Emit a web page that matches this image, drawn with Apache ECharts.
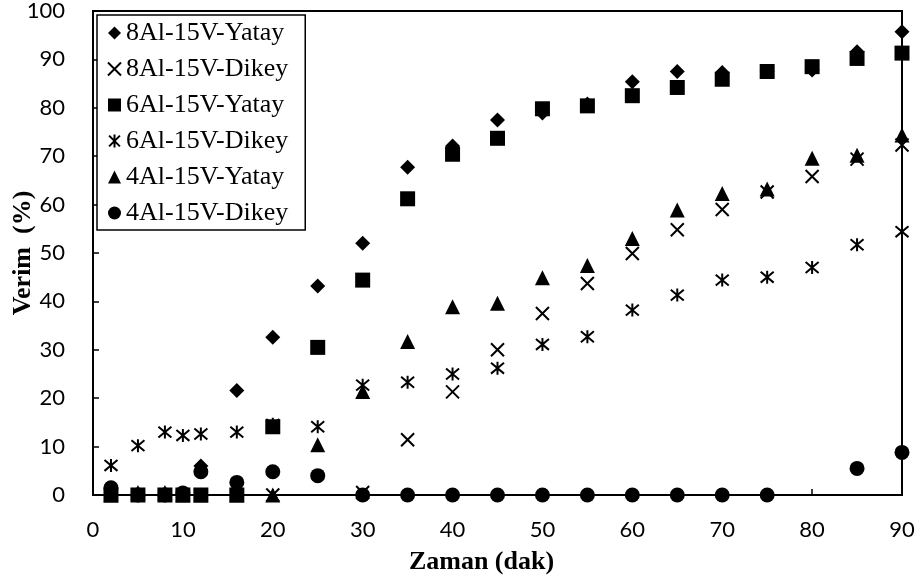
<!DOCTYPE html>
<html><head><meta charset="utf-8">
<script src="https://cdn.jsdelivr.net/npm/echarts@6/dist/echarts.min.js"></script>
<style>html,body{margin:0;padding:0;background:#fff}#c{width:922px;height:578px}</style>
</head><body><div id="c"></div>
<script>
var times = [2,5,8,10,12,16,20,25,30,35,40,45,50,55,60,65,70,75,80,85,90];
var xTicks = [0,10,20,30,40,50,60,70,80,90];
var yTicks = [0,10,20,30,40,50,60,70,80,90,100];
var al8Yatay = [0,0,0,0,6.0,21.6,32.6,43.2,52.0,67.7,72.1,77.5,78.9,80.8,85.4,87.5,87.3,87.5,87.8,91.6,95.7];
var al8Dikey = [0,0,0,0,0,0,0,null,0.5,11.4,21.3,30.0,37.5,43.7,49.9,54.8,59.0,62.6,65.8,69.4,72.3];
var al6Yatay = [0,0,0,0,0,0,14.1,30.5,44.4,61.2,70.4,73.7,79.8,80.4,82.5,84.2,85.9,87.5,88.5,90.2,91.3];
var al6Dikey = [6.1,10.2,13.0,12.3,12.6,13.0,14.6,14.1,22.7,23.3,25.0,26.2,31.1,32.7,38.2,41.3,44.4,45.0,47.0,51.7,54.4];
var al4Yatay = [0,0.5,0.5,0,0,0,0,10.4,21.4,31.7,38.9,39.6,44.9,47.4,53.0,58.9,62.3,63.2,69.6,70.2,74.4];
var al4Dikey = [1.5,0,0,0.4,4.8,2.6,4.8,4.0,0,0,0,0,0,0,0,0,0,0,null,5.5,8.8];
var names = ['8Al-15V-Yatay','8Al-15V-Dikey','6Al-15V-Yatay','6Al-15V-Dikey','4Al-15V-Yatay','4Al-15V-Dikey'];

function pairs(vals){ var o=[]; for(var i=0;i<times.length;i++){ if(vals[i]!==null) o.push([times[i], vals[i]]); } return o; }
var CROSS = 'path://M0 0L10 10M10 0L0 10';
var STAR = 'path://M0 0L10 10M10 0L0 10M5 -1L5 11';
function ser(name, vals, symbol, size, stroke){
  return {
    type:'scatter', name:name, data:pairs(vals), symbol:symbol, symbolSize:size, clip:false,
    itemStyle: stroke ? {color:'#000', borderColor:'#000', borderWidth:2, opacity:1} : {color:'#000', borderWidth:0, opacity:1},
    emphasis:{disabled:true}
  };
}
var chart = echarts.init(document.getElementById('c'), null, {renderer:'canvas'});
chart.setOption({
  animation:false,
  backgroundColor:'#fff',
  grid:{left:93, right:20, top:11, bottom:83, show:true, borderColor:'#000', borderWidth:2, backgroundColor:'transparent', containLabel:false, outerBoundsMode:'none'},
  legend:{
    orient:'vertical', left:97, top:15, data:names,
    backgroundColor:'#fff', borderColor:'#000', borderWidth:1.5,
    padding:[5,17,4,10], itemGap:10, itemWidth:13, itemHeight:13,
    textStyle:{fontFamily:'Liberation Serif', fontSize:26, color:'#000'}
  },
  xAxis:{
    type:'value', min:0, max:90, interval:10,
    axisLine:{lineStyle:{color:'#000', width:2}},
    axisTick:{inside:true, length:6, lineStyle:{color:'#000', width:1.5}},
    splitLine:{show:false},
    axisLabel:{margin:24, fontFamily:'Lato', fontSize:22, color:'#000',
      formatter:function(v){ return xTicks.indexOf(v)>=0 ? String(v) : ''; }},
    name:'Zaman (dak)', nameLocation:'middle', nameGap:54, nameMoveOverlap:false,
    nameTextStyle:{fontFamily:'Liberation Serif', fontWeight:'bold', fontSize:26, color:'#000', padding:[0,32,0,0]}
  },
  yAxis:{
    type:'value', min:0, max:100, interval:10,
    axisLine:{show:true, lineStyle:{color:'#000', width:2}},
    axisTick:{show:true, inside:true, length:6, lineStyle:{color:'#000', width:1.5}},
    splitLine:{show:false},
    axisLabel:{margin:28, fontFamily:'Lato', fontSize:22, color:'#000',
      formatter:function(v){ return yTicks.indexOf(v)>=0 ? String(v) : ''; }},
    name:'Verim  (%)', nameLocation:'middle', nameGap:57, nameMoveOverlap:false,
    nameTextStyle:{fontFamily:'Liberation Serif', fontWeight:'bold', fontSize:26, color:'#000'}
  },
  series:[
    ser(names[0], al8Yatay, 'diamond', 15, false),
    ser(names[1], al8Dikey, CROSS, 13, true),
    ser(names[2], al6Yatay, 'rect', 15, false),
    ser(names[3], al6Dikey, STAR, 13, true),
    ser(names[4], al4Yatay, 'triangle', 15, false),
    ser(names[5], al4Dikey, 'circle', 15, false)
  ]
});
</script></body></html>
